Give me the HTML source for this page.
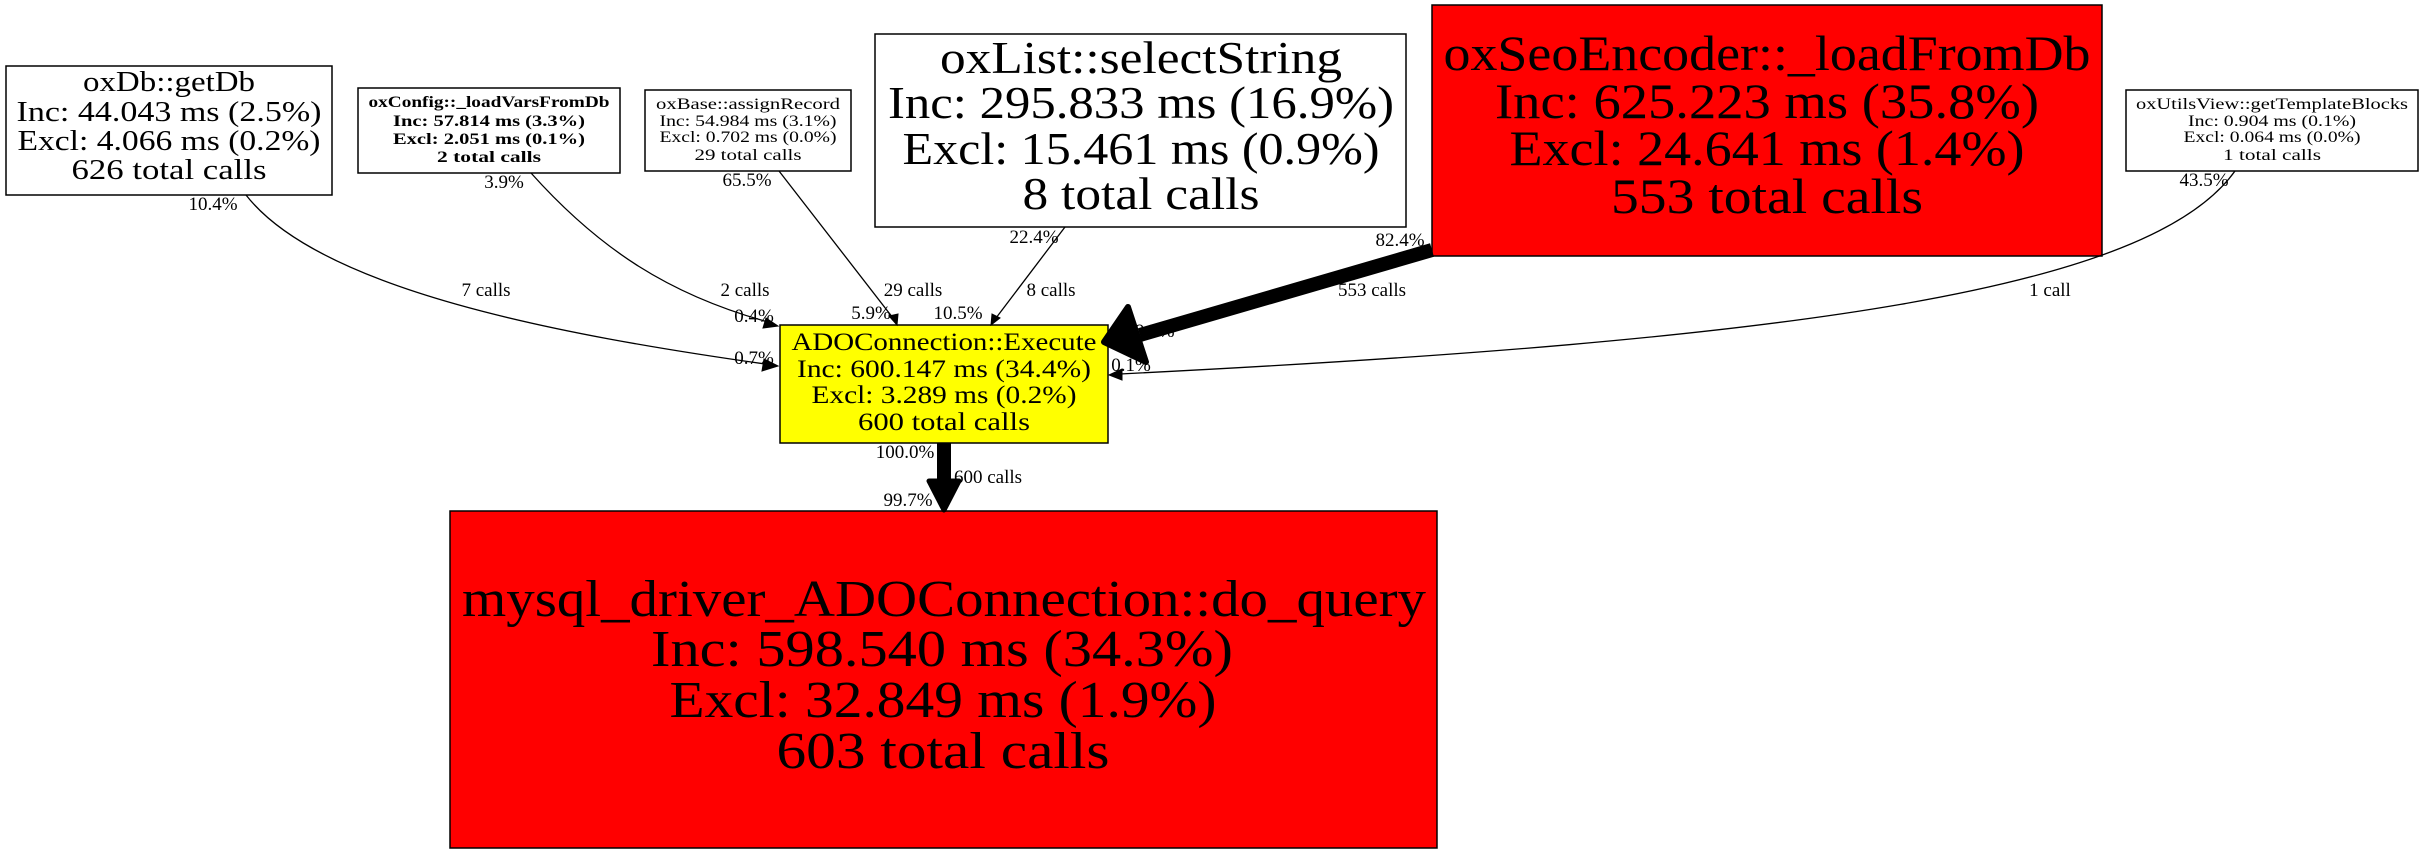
<!DOCTYPE html>
<html><head><meta charset="utf-8"><style>
html,body{margin:0;padding:0;background:#fff;}
svg{display:block;}
text{font-family:"Liberation Serif","DejaVu Serif",serif;}
</style></head><body>
<svg width="2423" height="853" viewBox="0 0 2423 853" xmlns="http://www.w3.org/2000/svg">
<rect width="2423" height="853" fill="#fff"/>
<g stroke="#000" stroke-width="1.5">
<rect x="6" y="66" width="326" height="129" fill="#fff"/>
<rect x="358" y="88" width="262" height="85" fill="#fff"/>
<rect x="645" y="90" width="206" height="81" fill="#fff"/>
<rect x="875" y="34" width="531" height="193" fill="#fff"/>
<rect x="1432" y="5" width="670" height="251" fill="#ff0000"/>
<rect x="2126" y="90" width="292" height="81" fill="#fff"/>
<rect x="780" y="325" width="328" height="118" fill="#ffff00"/>
<rect x="450" y="511" width="987" height="337" fill="#ff0000"/>
</g>
<g text-anchor="middle">
<g font-size="28">
<text x="169" y="91" textLength="172" lengthAdjust="spacingAndGlyphs">oxDb::getDb</text>
<text x="169" y="121" textLength="305" lengthAdjust="spacingAndGlyphs">Inc: 44.043 ms (2.5%)</text>
<text x="169" y="150" textLength="303" lengthAdjust="spacingAndGlyphs">Excl: 4.066 ms (0.2%)</text>
<text x="169" y="179" textLength="195" lengthAdjust="spacingAndGlyphs">626 total calls</text>
</g>
<g font-size="16" font-weight="bold">
<text x="489" y="107" textLength="241" lengthAdjust="spacingAndGlyphs">oxConfig::_loadVarsFromDb</text>
<text x="489" y="126" textLength="192" lengthAdjust="spacingAndGlyphs">Inc: 57.814 ms (3.3%)</text>
<text x="489" y="144" textLength="192" lengthAdjust="spacingAndGlyphs">Excl: 2.051 ms (0.1%)</text>
<text x="489" y="162" textLength="104" lengthAdjust="spacingAndGlyphs">2 total calls</text>
</g>
<g font-size="16">
<text x="748" y="109" textLength="184" lengthAdjust="spacingAndGlyphs">oxBase::assignRecord</text>
<text x="748" y="126" textLength="177" lengthAdjust="spacingAndGlyphs">Inc: 54.984 ms (3.1%)</text>
<text x="748" y="142" textLength="177" lengthAdjust="spacingAndGlyphs">Excl: 0.702 ms (0.0%)</text>
<text x="748" y="160" textLength="107" lengthAdjust="spacingAndGlyphs">29 total calls</text>
</g>
<g font-size="46">
<text x="1141" y="73" textLength="402" lengthAdjust="spacingAndGlyphs">oxList::selectString</text>
<text x="1141" y="118" textLength="506" lengthAdjust="spacingAndGlyphs">Inc: 295.833 ms (16.9%)</text>
<text x="1141" y="164" textLength="477" lengthAdjust="spacingAndGlyphs">Excl: 15.461 ms (0.9%)</text>
<text x="1141" y="209" textLength="237" lengthAdjust="spacingAndGlyphs">8 total calls</text>
</g>
<g font-size="50">
<text x="1767" y="70" textLength="647" lengthAdjust="spacingAndGlyphs">oxSeoEncoder::_loadFromDb</text>
<text x="1767" y="118" textLength="544" lengthAdjust="spacingAndGlyphs">Inc: 625.223 ms (35.8%)</text>
<text x="1767" y="165" textLength="515" lengthAdjust="spacingAndGlyphs">Excl: 24.641 ms (1.4%)</text>
<text x="1767" y="213" textLength="312" lengthAdjust="spacingAndGlyphs">553 total calls</text>
</g>
<g font-size="16">
<text x="2272" y="109" textLength="272" lengthAdjust="spacingAndGlyphs">oxUtilsView::getTemplateBlocks</text>
<text x="2272" y="126" textLength="168" lengthAdjust="spacingAndGlyphs">Inc: 0.904 ms (0.1%)</text>
<text x="2272" y="142" textLength="177" lengthAdjust="spacingAndGlyphs">Excl: 0.064 ms (0.0%)</text>
<text x="2272" y="160" textLength="98" lengthAdjust="spacingAndGlyphs">1 total calls</text>
</g>
<g font-size="25">
<text x="944" y="350" textLength="305" lengthAdjust="spacingAndGlyphs">ADOConnection::Execute</text>
<text x="944" y="377" textLength="294" lengthAdjust="spacingAndGlyphs">Inc: 600.147 ms (34.4%)</text>
<text x="944" y="403" textLength="265" lengthAdjust="spacingAndGlyphs">Excl: 3.289 ms (0.2%)</text>
<text x="944" y="430" textLength="172" lengthAdjust="spacingAndGlyphs">600 total calls</text>
</g>
<g font-size="52">
<text x="944" y="616" textLength="964" lengthAdjust="spacingAndGlyphs">mysql_driver_ADOConnection::do_query</text>
<text x="942" y="666" textLength="582" lengthAdjust="spacingAndGlyphs">Inc: 598.540 ms (34.3%)</text>
<text x="943" y="717" textLength="547" lengthAdjust="spacingAndGlyphs">Excl: 32.849 ms (1.9%)</text>
<text x="943" y="768" textLength="333" lengthAdjust="spacingAndGlyphs">603 total calls</text>
</g>
</g>
<g fill="none" stroke="#000" stroke-width="1.3">
<path d="M246,195 C320,290 560,335 765,364"/>
<path d="M531,173 C600,250 670,295 768,322"/>
<path d="M779,171 L893,318"/>
<path d="M1065,227 L996,318"/>
<path d="M2235,171 C2150,290 1800,340 1120,374"/>
</g>
<g fill="#000" stroke="#000">
<polygon points="778,366 764,359 762,371"/>
<polygon points="778,326 766,318 763,328"/>
<polygon points="897,325 889,316 898,314"/>
<polygon points="991,325 992,314 1000,318"/>
<polygon points="1109,375 1122,369 1122,380"/>
</g>
<path d="M1432,250 L1140,335" stroke="#000" stroke-width="14" fill="none"/>
<polygon points="1104,342 1128,307 1146,362" fill="#000" stroke="#000" stroke-width="6" stroke-linejoin="round"/>
<path d="M944,443 L944,482" stroke="#000" stroke-width="14" fill="none"/>
<polygon points="944,510 929,481 959,481" fill="#000" stroke="#000" stroke-width="5" stroke-linejoin="round"/>
<g font-size="19" text-anchor="middle">
<text x="213" y="210">10.4%</text>
<text x="486" y="296">7 calls</text>
<text x="754" y="364">0.7%</text>
<text x="504" y="188">3.9%</text>
<text x="745" y="296">2 calls</text>
<text x="754" y="322">0.4%</text>
<text x="747" y="186">65.5%</text>
<text x="913" y="296">29 calls</text>
<text x="871" y="319">5.9%</text>
<text x="1034" y="243">22.4%</text>
<text x="1051" y="296">8 calls</text>
<text x="958" y="319">10.5%</text>
<text x="1400" y="246">82.4%</text>
<text x="1372" y="296">553 calls</text>
<text x="1150" y="337">99.5%</text>
<text x="2204" y="186">43.5%</text>
<text x="2050" y="296">1 call</text>
<text x="1131" y="371">0.1%</text>
<text x="905" y="458">100.0%</text>
<text x="988" y="483">600 calls</text>
<text x="908" y="506">99.7%</text>
</g>
</svg>
</body></html>
